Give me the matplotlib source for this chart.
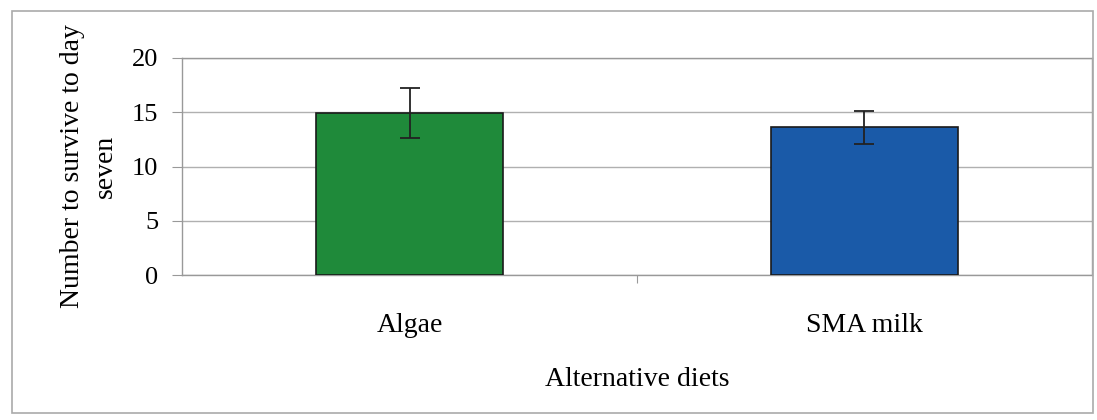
import matplotlib.pyplot as plt
from matplotlib.patches import Rectangle

# data
diets = ['Algae', 'SMA milk']
survivors = [14.9, 13.6]
errors = [2.3, 1.5]
bar_colors = ['#1f8a3a', '#1a5aa8']

plt.rcParams['font.family'] = ['Liberation Serif', 'DejaVu Serif']

fig = plt.figure(figsize=(10.97, 4.2), dpi=100)
ax = fig.add_axes([0.166, 0.345, 0.8294, 0.517])

x = list(range(len(diets)))
ax.bar(x, survivors, width=0.41, color=bar_colors, edgecolor='#1a1a1a',
       linewidth=1.2, zorder=3)
ax.errorbar(x, survivors, yerr=errors, fmt='none', ecolor='#222222',
            elinewidth=1.3, capsize=7, capthick=1.3, zorder=4)

ax.set_xlim(-0.5, 1.5)
ax.set_ylim(0, 20)
ax.set_yticks([0, 5, 10, 15, 20])
ax.yaxis.grid(True, color='#b0b0b0', linewidth=1.0, zorder=0)

# excel-style ticks between categories
ax.set_xticks([0.5])
ax.set_xticklabels([''])
ax.tick_params(axis='x', length=6, color='#999999')
ax.tick_params(axis='y', length=7, color='#999999', labelsize=19, pad=10)
for i, name in enumerate(diets):
    ax.text(i, -4.6, name, ha='center', va='center', fontsize=20)

for side in ['left', 'right', 'bottom', 'top']:
    ax.spines[side].set_color('#999999')
    ax.spines[side].set_linewidth(1.0)

ax.set_ylabel('Number to survive to day\nseven', fontsize=20, labelpad=10,
              linespacing=1.45)
ax.text(0.5, -9.6, 'Alternative diets', ha='center', va='center', fontsize=20)

# outer chart border
fig.patches.append(Rectangle((0.011, 0.017), 0.985, 0.957, transform=fig.transFigure,
                             fill=False, edgecolor='#aaaaaa', linewidth=1.2))

fig.savefig('out.png', dpi=100)
